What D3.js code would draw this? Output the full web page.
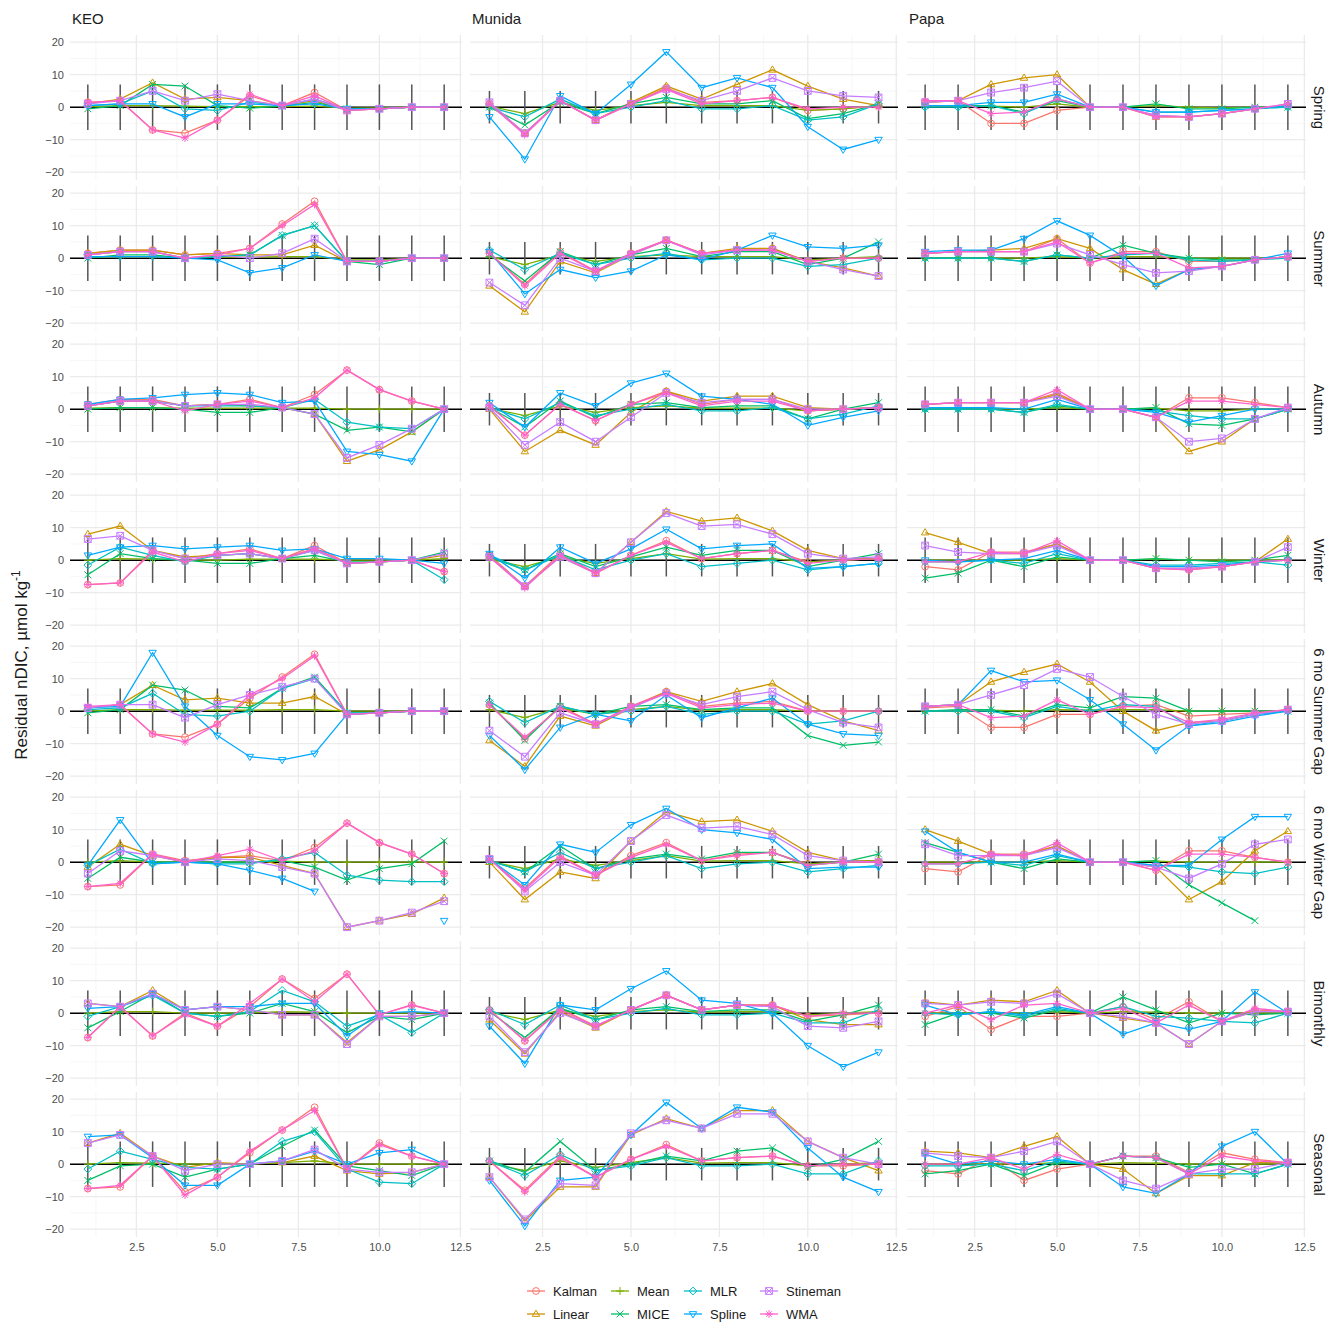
<!DOCTYPE html>
<html>
<head>
<meta charset="utf-8">
<script src="https://cdn.jsdelivr.net/npm/d3@7"></script>
<style>
  body { margin: 0; background: #fff; }
  text { font-family: "Liberation Sans", Arial, sans-serif; }
</style>
</head>
<body>
<svg id="chart" width="1330" height="1323"></svg>
<script>
// categories
const stations = ["KEO", "Munida", "Papa"];
const seasons = ["Spring", "Summer", "Autumn", "Winter", "6 mo Summer Gap", "6 mo Winter Gap", "Bimonthly", "Seasonal"];
const methods = ["Kalman", "Linear", "Mean", "MICE", "MLR", "Spline", "Stineman", "WMA"];
const months = [1, 2, 3, 4, 5, 6, 7, 8, 9, 10, 11, 12];
const xTicks = [2.5, 5.0, 7.5, 10.0, 12.5];
const yTicks = [-20, -10, 0, 10, 20];
// half-width of the error bars per station
const errHalf = [7, 5, 7];

// residuals, one row per method in the order of `methods`
const keoSpring = [
  [1.5,2,-7,-8,-4,3.5,0.5,4.5,-1,-0.5,0,0],
  [1,2.5,7.5,2.5,3,2,0.5,2,-1,-0.5,0,0],
  [0.2,0.5,0.5,0.3,0.2,0.2,0.2,0.3,-0.3,-0.2,0,0],
  [-0.5,0.5,7,6.5,0.5,-0.3,0.3,1.5,-0.5,-0.5,0,0],
  [0.5,1,5,-0.5,-1,1.5,0.5,2.5,-0.5,-0.5,0,0],
  [0.5,1,1,-3,1,1,0.5,1,-0.5,-0.5,0,0],
  [1,2,5,2,4,2,0.5,2.5,-1,-0.5,0,0],
  [1.5,2,-7,-9.5,-4,4,0.5,3.5,-1,-0.5,0,0]
];
const keoSummer = [
  [1.5,2.5,2.5,1,1.5,3,10.5,17.5,-1,-1,0,0],
  [1.5,2.5,2.5,1,1.5,1,1,4,-1,-1,0,0],
  [0.3,0.5,0.5,0.2,0.3,0.3,0.5,0.5,-0.5,-0.5,0,0],
  [0,1,1,0,0.5,1,7,10,-1,-2,0,0],
  [1,2,2,0,0.5,1,7,10,-1,-1,0,0],
  [0.5,0.5,0.5,0,-0.5,-4.5,-3,1,-1,-1,0,0],
  [1,2,2,0,1,0,1.5,6,-1,-1,0,0],
  [1,2,2,0,1,3,10,16.5,-1,-1,0,0]
];
const keoAutumn = [
  [1.5,3,3,1,1.5,3,0.5,4.5,12,6,2.5,0],
  [1,2.5,2.5,1,1.5,1,0.5,-1.5,-16,-12.5,-7,0],
  [0.3,0.5,0.5,0.3,0.3,0.3,0.3,0.3,0,0,0,0],
  [0,0.5,0.5,0,-1,-1,0.5,-1.5,-6.5,-5.5,-7,0],
  [1,2.5,2.5,1,1,1,0.5,3,-4,-5.5,-6,0],
  [1.5,3,3.5,4.5,5,4.5,2,2.5,-13,-14,-16,0],
  [1,2.5,2.5,1,1.5,1.5,0.5,-1.5,-15,-11,-6,0],
  [1,2.5,2.5,-0.5,1.5,2.5,0.5,3.5,12,6,2.5,0]
];
const keoWinter = [
  [-7.5,-7,3,0.5,2,3.5,0.5,4.5,-1,-0.5,0,-3.5],
  [8,10.5,3,1,1.5,2,0.5,3.5,-1,-0.5,0,1.5],
  [0,0.5,0.3,0,0,0.3,0.3,0.3,0,0,0,0.5],
  [-4.5,2,0.5,0,-1,-1,0.5,1.5,-0.5,-0.5,0,2.5],
  [-1.5,4,1.5,-0.5,1.5,2,0.5,3,-1,-0.5,0,-6],
  [1.5,4,4.5,3.5,4,4.5,3,3.5,0.5,0.5,0,-1],
  [6.5,7.5,3,0.5,1.5,2,0.5,3,-1,-0.5,0,2],
  [-7.5,-7,2.5,-0.5,2,3,0.5,3.5,-1,-0.5,0,-3.5]
];
const keoSummerGap = [
  [1,2,-7,-8,-4,4,10.5,17.5,-1,-0.5,0,0],
  [1,2,8,3.5,4,2.5,2.5,4.5,-1,-0.5,0,0],
  [0,0.5,0.5,0.3,0.3,0.3,0.5,0.5,0,0,0,0],
  [-0.5,0.5,8,6.5,1.5,1,7,10.5,-0.5,-0.5,0,0],
  [0.5,1,5.5,-1,-1.5,0,7,10,-0.5,-0.5,0,0],
  [1,1.5,18,1.5,-7.5,-14,-15,-13,-1,-0.5,0,0],
  [1,2,2,-2,2,5,7.5,10,-1,-0.5,0,0],
  [1.5,2,-7,-9.5,-4,5,10,17,-1,-0.5,0,0]
];
const keoWinterGap = [
  [-7.5,-7,2.5,0.5,1.5,2,0.5,4.5,12,6,2.5,-3.5],
  [-1.5,5.5,2,0,1.5,1.5,-1,-3.5,-20,-18,-16,-11],
  [0,0.5,0,0,0,0,0.3,0,0,0,0,0],
  [-5,1.5,0,0,0,0,0.5,-1.5,-5.5,-2,-0.5,6.5],
  [-1,4,-0.5,0,-0.5,-0.5,1,3,-4,-5.5,-6,-6],
  [-1,13,-0.5,0,-0.5,-2.5,-5,-9,null,null,null,-18],
  [-3.5,3.5,2,0,1,0.5,-1.5,-3.5,-20,-18,-15.5,-12],
  [-7.5,-6.5,2.5,0,2,4,0.5,3.5,12,6,2.5,-3.5]
];
const keoBimonthly = [
  [-7.5,2,-7,0,-4,2,10.5,4.5,12,-0.5,2.5,0],
  [3,2,7,1,2,1,-0.5,-0.5,-9,-1,-1,0],
  [0,0.5,0.5,0,0,0,0.5,0.3,0,0,0,0],
  [-4.5,0.5,6,0,-1,0,3,0.5,-6,-1,-2,0],
  [-1,2,5.5,0,-1,0.5,7,3.5,-4,-0.5,-6,0],
  [1.5,2,6,1,2,2,3,3,-7,0,0.5,0],
  [3,2,6,1,2,1,-0.5,-0.5,-9.5,-1,-1,0],
  [-7.5,2,-7,-0.5,-4,3,10.5,3.5,12,-0.5,2.5,0]
];
const keoSeasonal = [
  [-7.5,-7,2.5,-8.5,-4,3.5,10.5,17.5,-1.5,6.5,2.5,0],
  [6.5,9.5,2.5,-1,0.5,0,0.5,2.5,-2,-3,-2.5,0],
  [0,0.5,0.3,0,0,0,0.5,1,0,0,0,0],
  [-5,-0.5,0,-4,-1.5,0,5.5,10.5,-0.5,-2,-3.5,0],
  [-1.5,4,1.5,-1,-1.5,0,7,10,-1.5,-5.5,-6,0],
  [8.5,9,2,-6.5,-6.5,0,1,4,0,3.5,4.5,0],
  [6.5,9,2.5,-2,0,0,1,4.5,-1.5,-2.5,-2.5,0],
  [-7.5,-6.5,2.5,-9.5,-4,4,10.5,16.5,-1.5,6,2.5,0]
];
const munidaSpring = [
  [1,-8,2,-4,1,6,1.5,2,3,-1,-0.5,0.5],
  [1,-8,2,-4,1.5,6.5,2.5,7,11.5,6.5,2.5,0.5],
  [0.3,-2,1.5,-1,0.5,1.5,0.5,0.5,0.5,-1,-0.5,0.5],
  [0,-5.5,1.5,-2,1,3,1,1,2,-3.5,-2,1],
  [0,-3,2.5,-2,0,2,-0.5,-0.5,0.5,-4,-3,1],
  [-3,-16,3.5,-2,7,17,6,9,6,-6,-13,-10],
  [1.5,-8,2,-4,1,5.5,2,5,9,5,3.5,3],
  [1,-8.5,2,-4,1,5.5,1,2,3,-0.5,0,0]
];
const munidaSummer = [
  [1.5,-8,2,-4,1.5,5.5,1.5,2.5,3,-1,0,0],
  [-8.5,-16.5,-1,-4.5,1,5.5,1.5,3,3,-1,-3,-5.5],
  [0.5,-2,1,-1,0.5,1,0.5,0.5,0.5,-0.5,0,0.5],
  [1,-7,2,-2,1,3,0.5,2,2,-2,0,5],
  [2.5,-3.5,1.5,-2,0,1.5,-0.5,0,0,-2.5,-2,0],
  [2,-11,-3.5,-6,-4,1,-0.5,2.5,7,3.5,3,4],
  [-7.5,-14.5,0,-4,1,5.5,1,2.5,2.5,-1,-3.5,-5.5],
  [1.5,-8.5,1.5,-4,1.5,5.5,1.5,2.5,2.5,-1,0,0]
];
const munidaAutumn = [
  [1,-8,1.5,-3.5,1.5,5.5,1.5,3,3,-0.5,0,0.5],
  [0,-13,-6.5,-11,-1,5.5,2.5,4,4,0.5,0,0.5],
  [0.3,-2,1,-1,0.5,1,0.3,0.3,0.3,-0.5,0,0.5],
  [0.5,-5.5,2.5,-2.5,1.5,2,0.5,1,1,-3,0,2],
  [0.5,-3,2,-2,0,1.5,-0.5,-0.5,0.5,-3,-1.5,1],
  [2,-5.5,5,1,8,11,4,3,1.5,-5,-2.5,-0.5],
  [0.5,-11,-4,-10,-2.5,5,2,3,3,0,0,0.5],
  [1,-8,1.5,-3.5,1.5,5,1,2.5,2.5,-0.5,0,0.5]
];
const munidaWinter = [
  [1.5,-8,2,-4,1.5,6,0.5,2,3,-0.5,0,0.5],
  [1,-8,1,-4,5.5,15,12,13,9,3,0.5,0.5],
  [0.3,-2,1,-1,0.5,2,0.3,0.5,0.5,-0.5,0,0.5],
  [1,-3,2,-2,1,4,1.5,3,3,-2,0,2],
  [1.5,-3,1.5,-3,0,2,-2,-1,0,-3,-2,-1],
  [2,-5.5,4,-1,3.5,9.5,3.5,4.5,5,-2.5,-2,-1],
  [1,-8,1,-4,5.5,14.5,10.5,11,8,2,0.5,1],
  [1,-8.5,1.5,-4,1.5,5.5,0.5,2,3,-1,0,0.5]
];
const munidaSummerGap = [
  [2,-8.5,1.5,-4,1.5,6,1.5,2.5,3,0,0,0],
  [-9,-17,-1.5,-4.5,1,6,3,6,8.5,2,-3,-6],
  [0.5,-2,1,-1,0.5,1.5,0.3,0.5,0.5,0,0,0],
  [2.5,-9,1.5,-1,1.5,2,0.5,1,1,-7.5,-10.5,-9.5],
  [3,-3.5,1.5,-1,0,1.5,-1,0,0,-4,-3,0],
  [-7.5,-18,-5,-1,-3,5,-2,1,4,-4,-7,-7.5],
  [-6,-14,-0.5,-4,1,5.5,2,4.5,6,0.5,-3.5,-5],
  [2,-8,1,-4,1.5,5.5,1,2,2.5,0,0,0]
];
const munidaWinterGap = [
  [1,-8,2,-4,2,6,0.5,2.5,3,-0.5,0,0],
  [0,-11.5,-3,-5,6.5,15.5,12.5,13,9.5,3,0.5,0.5],
  [0.3,-2,1,-1,0.5,2,0.3,0.5,0.5,-0.5,0,0.5],
  [0.5,-3,5,-2,1,2.5,1,3,3,-1,0,2.5],
  [0.5,-3,3,-2,0,2,-2,-0.5,0,-3,-2,-1],
  [1,-7,5.5,3,11.5,16.5,10,9,7,-2,-1.5,-1.5],
  [1,-9,0,-4,6.5,14.5,10.5,11,8.5,2,0.5,0],
  [1,-8.5,1.5,-4,1.5,5.5,0.5,2,3,-1,0,0]
];
const munidaBimonthly = [
  [1,-8.5,1.5,-4,1,5.5,1,2.5,2.5,-1,-0.5,0],
  [-2,-12.5,0.5,-4.5,1,5.5,1,2.5,2.5,-2,-3.5,-3.5],
  [0.3,-2,1,-1,0.5,1,0.3,0.5,0.5,-0.5,0,0.5],
  [0.5,-7.5,1.5,-2,1,2,0.5,1,1,-2.5,-0.5,2.5],
  [1,-3.5,2.5,-2,0,1.5,-0.5,-0.5,0,-3,-3,1],
  [-4,-15.5,2.5,1,7.5,13,4,3,0,-10,-16.5,-12],
  [-1,-12,0,-4,1,5.5,1,2.5,2,-4,-4.5,-2.5],
  [1,-8.5,1,-4,1,5.5,1,2.5,2.5,-1,0,0]
];
const munidaSeasonal = [
  [1,-8,2.5,-4,1.5,6,1,2,2.5,-0.5,-0.5,0],
  [-4,-17.5,-7,-7,9,14,11,16.5,16.5,7,2,-2],
  [0.3,-2,1,-1,0.5,2,0.3,0.5,0.5,-0.5,0,0.5],
  [1,-2.5,7,-2,0,2.5,1,4,5,-1,1.5,7],
  [1,-3.5,3,-2,-0.5,2,-0.5,-0.5,0,-3,-3,1],
  [-5,-19,-5,-4,9,19,11,17.5,16,5,-4,-8.5],
  [-4,-17,-6,-6.5,9.5,13.5,11,15.5,15.5,7,2,0],
  [1,-8.5,2,-4,1.5,5.5,1,2,2.5,-0.5,0,0]
];
const papaSpring = [
  [1.5,2,-5,-5,-1,0,0,-2.5,-3,-2,-0.5,0.5],
  [1.5,2,7,9,10,0,0,-3,-3,-2,-0.5,0.5],
  [0.3,0.3,0.3,0,1,0,0,0.5,0,-0.2,0,0],
  [0.5,0.5,0.5,-1.5,2,0,0,1,-0.5,-0.5,0,0],
  [0,0,0.5,-2,2.5,0,0,-1.5,-1.5,-1,-0.5,0],
  [0.5,0.5,1.5,1.5,4,0,0,-1.5,-1.5,-1,-0.5,0.5],
  [1.5,2,4.5,6,8,0,0,-2.5,-3,-2,-0.5,1],
  [2,2,-2,-1.5,2.5,0,0,-3,-3,-2,-0.5,1]
];
const papaSummer = [
  [1.5,2,2,2,6,-1.5,2,2,-1,-1,-0.5,0.5],
  [1.5,2,2.5,3,6,3,-3.5,-8,-3.5,-2.5,-0.5,0.5],
  [0,0,0,0,0.5,0,0.5,0.5,0,0,0,0],
  [0,0,0,-1,1,0,4,1.5,0,-0.5,-0.5,0.5],
  [0,0,0,-1,1,0,1,1.5,-0.5,-1,-0.5,0],
  [2,2.5,2.5,6,11.5,7,0.5,-8.5,-3.5,-2.5,-0.5,1.5],
  [1.5,2,2,2,4.5,1,-2,-4.5,-4,-2.5,-0.5,0.5],
  [1.5,2,2,2,5,-1.5,1.5,1.5,-3,-2.5,-0.5,0.5]
];
const papaAutumn = [
  [1.5,2,2,2,5,0,0,-2.5,3.5,3.5,2,0.5],
  [1.5,2,2,2,4.5,0,0,-2.5,-13,-10,-3,0],
  [0,0,0,0,0.5,0,0,0.3,-0.5,-0.5,0,0],
  [0,0,0,-1,1,0,0,0.5,-4.5,-5,-3,0],
  [0,0,0,-1,1.5,0,0,-0.5,-2,-3,-3,0],
  [0.5,0.5,0.5,0,3,0,0,-1,-4,-2,0,0],
  [1.5,2,2,2,4,0,0,-2.5,-10,-9,-3,0.5],
  [1.5,2,2,2,6,0,0,-2.5,2.5,2.5,1.5,0.5]
];
const papaWinter = [
  [-2,-3,2.5,2.5,5,0,0,-2.5,-3,-2,-0.5,0],
  [8.5,5.5,2,2,5,0,0,-2.5,-2.5,-2,-0.5,6.5],
  [0,0,0,0,0.5,0,0,0.3,0,0,0,0],
  [-5.5,-4,0,-2,1,0,0,0.5,0,-0.5,0,1.5],
  [-0.5,-0.5,0,-1,2,0,0,-1.5,-1.5,-1,-0.5,-1.5],
  [0,-0.5,0,0.5,3,0,0,-2,-2,-1.5,-0.5,0],
  [4.5,2.5,2,2,4.5,0,0,-2.5,-2.5,-2,-0.5,4],
  [-0.5,-0.5,2.5,2,6,0,0,-2.5,-3,-2,-0.5,0]
];
const papaSummerGap = [
  [1,1.5,-5,-5,-1,-1,1.5,2,-1.5,-1,-0.5,0.5],
  [1.5,2,9,12,14.5,9,0,-6,-3.5,-3,-1,0.5],
  [0,0,0.3,0,0.5,0.3,0.5,0.5,0,0,0,0],
  [0,0.5,0.5,-1.5,2,1,4.5,4,0,0,0,0],
  [0,0,0,-2,1.5,0,2,1.5,-4.5,-3,-1,0],
  [1.5,2,12.5,9,9.5,3.5,-4,-12,-4.5,-3.5,-1.5,0],
  [1.5,2,5,8,13,10.5,4.5,-1,-4,-3,-1,0.5],
  [1.5,2,-2,-1.5,3.5,-1,1.5,1,-3.5,-2.5,-0.5,0.5]
];
const papaWinterGap = [
  [-2,-3,2.5,2.5,5,0,0,-2.5,3.5,3.5,1.5,0],
  [10,6.5,2.5,2,5,0,0,-1.5,-11.5,-6,3.5,9.5],
  [0,0,0,0,0.5,0,0,0.3,0,0,0,0],
  [6,3,0,-2,1,0,0,0.5,-7,-12.5,-18,null],
  [-0.5,-0.5,0,-1,2,0,0,-1,-1.5,-3,-3.5,-1.5],
  [9.5,3,0,0,2.5,0,0,-1,-1,7,14,14],
  [5.5,2,2,2,4.5,0,0,-1.5,-5,-0.5,5.5,7],
  [-0.5,-0.5,2.5,2,6,0,0,-2.5,2.5,2.5,1.5,0]
];
const papaBimonthly = [
  [-1,2,-5,-1,-1,0,2,-2,3.5,-2.5,1,0.5],
  [3.5,2.5,4,3.5,7,0,-1.5,-3,-9.5,-2.5,0.5,0.5],
  [0,0,0,0,0.5,0,0.5,0.3,0,0,0,0],
  [-3.5,0,0,-1.5,1,0,5,1,-3,0,-0.5,0],
  [0,-0.5,0.5,-1,1.5,0,2,-1,-1.5,-2.5,-3,0],
  [2.5,-0.5,0.5,-0.5,2,0,-6.5,-3,-5,-2.5,6.5,0],
  [3,2.5,3.5,3,6,0,-1,-3,-9.5,-2.5,0.5,0.5],
  [0,2.5,-2,2.5,3,0,1.5,-3,2.5,-2.5,1.5,0.5]
];
const papaSeasonal = [
  [-2,-3,2,-5,-1.5,0,2.5,2.5,-2.5,3.5,1.5,0.5],
  [4,3.5,2,5.5,8.5,0,-1.5,-9,-3.5,-3.5,0.5,0.5],
  [0,0,0,0,0.5,0,0.5,0.3,0,0,0,0],
  [-3,-2,0,-3.5,0.5,0,2.5,2,-1,0,-3,0],
  [-0.5,-0.5,0,-2,1,0,2.5,2,-3,-3,-3,0],
  [3,0,1,0,1.5,0,-7,-9,-3,5.5,10,0],
  [3.5,2.5,2,4,7,0,-5,-7.5,-3,-1.5,-1.5,0.5],
  [0,0,2,-1.5,3,0,2.5,2,-3,2.5,1,0.5]
];

const panelData = [
  [keoSpring, keoSummer, keoAutumn, keoWinter, keoSummerGap, keoWinterGap, keoBimonthly, keoSeasonal],
  [munidaSpring, munidaSummer, munidaAutumn, munidaWinter, munidaSummerGap, munidaWinterGap, munidaBimonthly, munidaSeasonal],
  [papaSpring, papaSummer, papaAutumn, papaWinter, papaSummerGap, papaWinterGap, papaBimonthly, papaSeasonal]
];

const colors = ["#F8766D", "#CD9600", "#7CAE00", "#00BE67", "#00BFC4", "#00A9FF", "#C77CFF", "#FF61CC"];
const color = d3.scaleOrdinal().domain(methods).range(colors);

// ggplot shapes 1..8
function shapePath(i, r) {
  const t = r * 1.15;
  switch (i) {
    case 0: return `M${r},0A${r},${r} 0 1,1 ${-r},0A${r},${r} 0 1,1 ${r},0Z`;
    case 1: return `M0,${-t}L${t*0.95},${t*0.6}L${-t*0.95},${t*0.6}Z`;
    case 2: return `M${-t},0L${t},0M0,${-t}L0,${t}`;
    case 3: return `M${-r},${-r}L${r},${r}M${-r},${r}L${r},${-r}`;
    case 4: return `M0,${-t}L${t},0L0,${t}L${-t},0Z`;
    case 5: return `M0,${t}L${t*0.95},${-t*0.6}L${-t*0.95},${-t*0.6}Z`;
    case 6: return `M${-r},${-r}H${r}V${r}H${-r}ZM${-r},${-r}L${r},${r}M${-r},${r}L${r},${-r}`;
    case 7: return `M${-t},0L${t},0M0,${-t}L0,${t}M${-r*0.8},${-r*0.8}L${r*0.8},${r*0.8}M${-r*0.8},${r*0.8}L${r*0.8},${-r*0.8}`;
  }
}

const svg = d3.select("#chart");
const colRanges = [[70, 462], [470, 898], [907, 1306]];
const rowTop = 35, rowStep = 151, rowH = 145;

const gridMajor = "#EBEBEB", gridMinor = "#F3F3F3";

stations.forEach((st, c) => {
  const x = d3.scaleLinear().domain([0.45, 12.55]).range(colRanges[c]);
  svg.append("text").attr("x", colRanges[c][0] + 2).attr("y", 24)
    .attr("font-size", 15).attr("fill", "#1a1a1a").text(st);

  seasons.forEach((se, r) => {
    const top = rowTop + r * rowStep;
    const y = d3.scaleLinear().domain([-22.4, 22.2]).range([top + rowH, top]);
    const g = svg.append("g");

    // grid
    [-15, -5, 5, 15].forEach(v => g.append("line").attr("x1", colRanges[c][0]).attr("x2", colRanges[c][1])
      .attr("y1", y(v)).attr("y2", y(v)).attr("stroke", gridMinor).attr("stroke-width", 0.7));
    [1.25, 3.75, 6.25, 8.75, 11.25].forEach(v => g.append("line").attr("y1", top).attr("y2", top + rowH)
      .attr("x1", x(v)).attr("x2", x(v)).attr("stroke", gridMinor).attr("stroke-width", 0.7));
    yTicks.forEach(v => g.append("line").attr("x1", colRanges[c][0]).attr("x2", colRanges[c][1])
      .attr("y1", y(v)).attr("y2", y(v)).attr("stroke", gridMajor).attr("stroke-width", 1.3));
    xTicks.forEach(v => g.append("line").attr("y1", top).attr("y2", top + rowH)
      .attr("x1", x(v)).attr("x2", x(v)).attr("stroke", gridMajor).attr("stroke-width", 1.3));

    // y axis labels on first column
    if (c === 0) {
      const ax = svg.append("g").attr("transform", `translate(${colRanges[0][0] - 4},0)`)
        .call(d3.axisLeft(y).tickValues(yTicks).tickSize(0).tickPadding(2));
      ax.select(".domain").remove();
      ax.selectAll("text").attr("font-size", 11).attr("fill", "#4D4D4D")
        .style("font-family", "Liberation Sans, Arial, sans-serif");
    }
    // x axis labels on last row
    if (r === seasons.length - 1) {
      const ax = svg.append("g").attr("transform", `translate(0,${top + rowH + 4})`)
        .call(d3.axisBottom(x).tickValues(xTicks).tickFormat(d3.format(".1f")).tickSize(0).tickPadding(2));
      ax.select(".domain").remove();
      ax.selectAll("text").attr("font-size", 11).attr("fill", "#4D4D4D")
        .style("font-family", "Liberation Sans, Arial, sans-serif");
    }
    // row strip
    if (c === stations.length - 1) {
      svg.append("text").attr("transform", `translate(1314,${top + rowH / 2}) rotate(90)`)
        .attr("text-anchor", "middle").attr("font-size", 15).attr("fill", "#1a1a1a").text(se);
    }

    // zero line
    g.append("line").attr("x1", colRanges[c][0]).attr("x2", colRanges[c][1])
      .attr("y1", y(0)).attr("y2", y(0)).attr("stroke", "#000").attr("stroke-width", 1.5);
    // error bars
    g.selectAll(".eb").data(months).enter().append("line")
      .attr("x1", d => x(d)).attr("x2", d => x(d))
      .attr("y1", y(-errHalf[c])).attr("y2", y(errHalf[c]))
      .attr("stroke", "#555").attr("stroke-width", 1.5);

    const table = panelData[c][r];
    methods.forEach((m, k) => {
      const pts = months.map((mo, j) => ({ x: mo, v: table[k][j] }));
      const line = d3.line().defined(d => d.v !== null).x(d => x(d.x)).y(d => y(d.v));
      g.append("path").datum(pts).attr("d", line).attr("fill", "none")
        .attr("stroke", color(m)).attr("stroke-width", 1.3);
      g.selectAll(null).data(pts.filter(d => d.v !== null)).enter().append("path")
        .attr("transform", d => `translate(${x(d.x)},${y(d.v)})`)
        .attr("d", shapePath(k, 3.4)).attr("fill", "none")
        .attr("stroke", color(m)).attr("stroke-width", 1);
    });
  });
});

// y title
svg.append("text").attr("transform", "translate(27,665) rotate(-90)").attr("text-anchor", "middle")
  .attr("font-size", 17).attr("fill", "#1a1a1a")
  .html('Residual nDIC, µmol kg<tspan dy="-7" font-size="12">-1</tspan>');

// legend
const legCols = [527, 611, 684, 760];
const legRows = [1291, 1314];
methods.forEach((m, k) => {
  const lx = legCols[Math.floor(k / 2)], ly = legRows[k % 2];
  const g = svg.append("g").attr("transform", `translate(${lx},${ly})`);
  g.append("line").attr("x1", 0).attr("x2", 18).attr("stroke", color(m)).attr("stroke-width", 1.3);
  g.append("path").attr("transform", "translate(9,0)").attr("d", shapePath(k, 3.4))
    .attr("fill", "none").attr("stroke", color(m)).attr("stroke-width", 1);
  g.append("text").attr("x", 26).attr("y", 4.5).attr("font-size", 13).attr("fill", "#1a1a1a").text(m);
});
</script>
</body>
</html>
